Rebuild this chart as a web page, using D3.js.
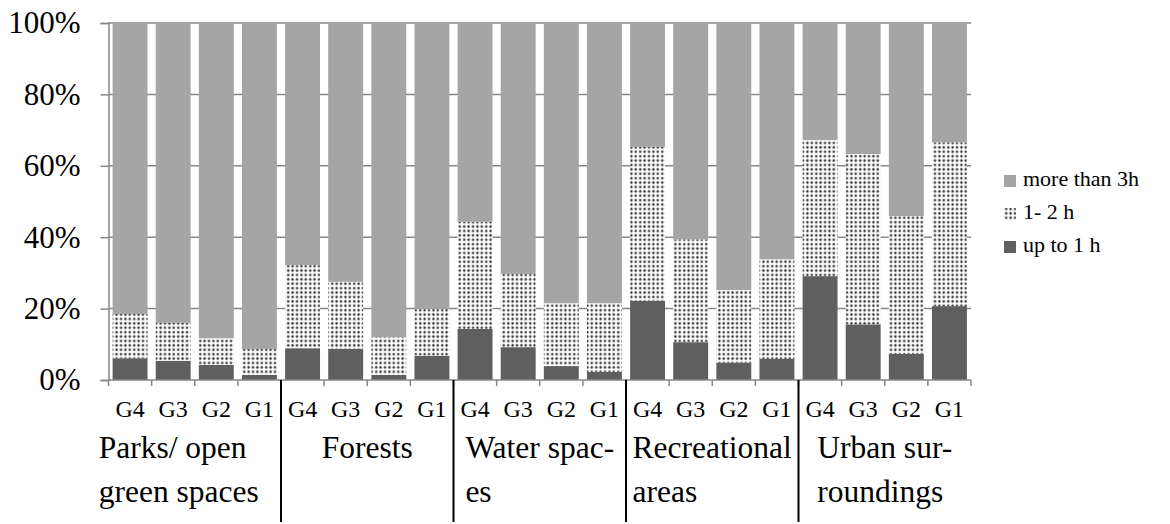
<!DOCTYPE html>
<html>
<head>
<meta charset="utf-8">
<script src="https://cdn.jsdelivr.net/npm/d3@7/dist/d3.min.js"></script>
<style>
  html, body { margin: 0; padding: 0; background: #fff; }
  svg { display: block; }
  svg text { font-family: "Liberation Serif", "Times New Roman", Times, "DejaVu Serif", serif !important; }
</style>
</head>
<body>
<svg id="chart" width="1170" height="524"></svg>
<script>
// Sub-groups within each area, in drawing order
const groups = ["G4", "G3", "G2", "G1"];
// Area names, one array of wrapped lines each
const areas = [
  ["Parks/ open", "green spaces"],
  ["Forests"],
  ["Water spac-", "es"],
  ["Recreational", "areas"],
  ["Urban sur-", "roundings"]
];
// Share of respondents (%) per bar, ordered area by area, G4..G1
const upTo1h = [6.1, 5.4, 4.2, 1.4, 8.9, 8.7, 1.4, 6.8, 14.3, 9.2, 3.9, 2.3, 22.2, 10.6, 4.9, 5.9, 29.1, 15.6, 7.3, 20.7];
const oneTo2h = [12.4, 10.6, 7.5, 7.3, 23.3, 18.8, 10.6, 13.1, 30.0, 20.5, 17.6, 19.2, 43.1, 28.8, 20.3, 27.9, 38.1, 47.7, 38.6, 45.9];
const moreThan3h = [81.5, 84.0, 88.3, 91.3, 67.8, 72.5, 88.0, 80.1, 55.7, 70.3, 78.5, 78.5, 34.7, 60.6, 74.8, 66.2, 32.8, 36.7, 54.1, 33.4];
const seriesNames = ["up to 1 h", "1- 2 h", "more than 3h"];
const yTicks = [0, 20, 40, 60, 80, 100];

const rows = upTo1h.map((v, i) => ({
  idx: i,
  area: Math.floor(i / groups.length),
  group: groups[i % groups.length],
  "up to 1 h": v,
  "1- 2 h": oneTo2h[i],
  "more than 3h": moreThan3h[i]
}));

const serif = "'Liberation Serif', 'Times New Roman', Times, 'DejaVu Serif', serif";
const svg = d3.select("#chart").attr("font-family", serif);
const plotLeft = 108.5, plotRight = 971, plotTop = 23, plotBottom = 380;
const axisGray = "#878787";

const defs = svg.append("defs");
const pat = defs.append("pattern")
  .attr("id", "dots")
  .attr("patternUnits", "userSpaceOnUse")
  .attr("width", 4.4).attr("height", 4.4);
pat.append("rect").attr("width", 4.4).attr("height", 4.4).attr("fill", "#fff");
pat.append("circle").attr("cx", 2.2).attr("cy", 2.2).attr("r", 1.7).attr("fill", "#c4c4c4");
pat.append("circle").attr("cx", 2.2).attr("cy", 2.2).attr("r", 1.0).attr("fill", "#222");

const fills = {
  "up to 1 h": "#5f5f5f",
  "1- 2 h": "url(#dots)",
  "more than 3h": "#a5a5a5"
};

const x = d3.scaleBand()
  .domain(rows.map(d => d.idx))
  .range([plotLeft, plotRight])
  .paddingInner(0.19)
  .paddingOuter(0.095);
const y = d3.scaleLinear().domain([0, 100]).range([plotBottom, plotTop]);

// horizontal gridlines
svg.append("g")
  .selectAll("line")
  .data(yTicks.filter(t => t > 0))
  .join("line")
  .attr("x1", plotLeft).attr("x2", plotRight)
  .attr("y1", d => y(d)).attr("y2", d => y(d))
  .attr("stroke", axisGray).attr("stroke-width", 1.5);

// stacked bars
const stack = d3.stack().keys(seriesNames);
const layers = stack(rows);
svg.append("g")
  .selectAll("g")
  .data(layers)
  .join("g")
  .attr("fill", d => fills[d.key])
  .selectAll("rect")
  .data(d => d)
  .join("rect")
  .attr("x", d => x(d.data.idx))
  .attr("width", x.bandwidth())
  .attr("y", d => y(d[1]))
  .attr("height", d => y(d[0]) - y(d[1]));

// y axis
const yAxis = svg.append("g")
  .attr("transform", `translate(${plotLeft},0)`)
  .call(d3.axisLeft(y).tickValues(yTicks).tickSize(8).tickPadding(20).tickFormat(d => d + "%"))
  .attr("font-family", serif);
yAxis.select(".domain").attr("stroke", axisGray).attr("stroke-width", 1.5);
yAxis.selectAll(".tick line").attr("stroke", axisGray).attr("stroke-width", 1.5);
yAxis.selectAll(".tick text")
  .attr("fill", "#000")
  .attr("font-size", 31);

// x axis baseline and category boundary ticks
const step = x.step();
const xStart = plotLeft;
const boundaries = d3.range(rows.length + 1);
svg.append("line")
  .attr("x1", plotLeft).attr("x2", plotRight)
  .attr("y1", plotBottom).attr("y2", plotBottom)
  .attr("stroke", axisGray).attr("stroke-width", 1.5);
svg.append("g")
  .selectAll("line")
  .data(boundaries)
  .join("line")
  .attr("x1", k => xStart + k * step).attr("x2", k => xStart + k * step)
  .attr("y1", plotBottom).attr("y2", plotBottom + 6)
  .attr("stroke", axisGray).attr("stroke-width", 1.5);

// separators between areas
svg.append("g")
  .selectAll("line")
  .data(d3.range(1, areas.length))
  .join("line")
  .attr("x1", a => xStart + a * groups.length * step)
  .attr("x2", a => xStart + a * groups.length * step)
  .attr("y1", plotBottom).attr("y2", 522)
  .attr("stroke", "#000").attr("stroke-width", 2);

// sub-group labels
svg.append("g")
  .selectAll("text")
  .data(rows)
  .join("text")
  .attr("x", d => x(d.idx) + x.bandwidth() / 2)
  .attr("y", 417)
  .attr("text-anchor", "middle")
  .attr("font-size", 24)
  .text(d => d.group);

// area labels: block centred on its area, lines left-aligned
const areaG = svg.append("g");
areas.forEach((lines, a) => {
  const cx = xStart + (a + 0.5) * groups.length * step;
  const t = areaG.append("text").attr("font-size", 31.5);
  lines.forEach((ln, j) => {
    t.append("tspan").attr("x", 0).attr("y", 458 + j * 44).text(ln);
  });
  const w = t.node().getBBox().width;
  const shift = a === 0 ? -16 : 0;
  t.attr("transform", `translate(${cx - w / 2 + shift},0)`);
});

// legend
const legendItems = seriesNames.slice().reverse();
const lg = svg.append("g").attr("transform", "translate(1004,0)");
legendItems.forEach((name, i) => {
  const base = 186 + i * 33;
  lg.append("rect")
    .attr("x", 0).attr("y", base - 11)
    .attr("width", 12).attr("height", 12)
    .attr("fill", fills[name]);
  lg.append("text")
    .attr("x", 19).attr("y", base)
    .attr("font-size", 22)
    .text(name);
});
</script>
</body>
</html>
